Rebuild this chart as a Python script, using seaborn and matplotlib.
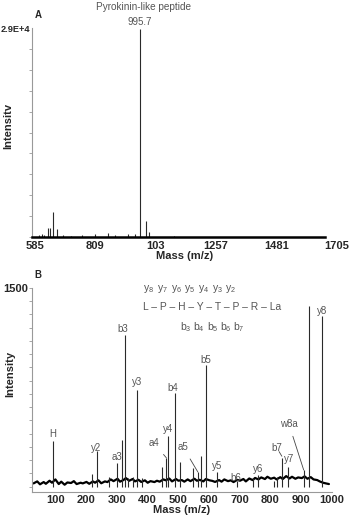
import pandas as pd
import matplotlib
matplotlib.use('Agg')
import matplotlib.pyplot as plt
import seaborn as sns
from matplotlib.ticker import MultipleLocator, FixedLocator

# --- panel A: full MS spectrum ---
a_mz = [600, 611, 620, 633, 640, 652, 667, 690, 720, 760, 808, 856, 880, 930, 956, 975, 997, 1008, 1100]
a_int = [300, 400, 300, 1250, 1250, 3500, 1100, 250, 200, 250, 400, 500, 300, 400, 350, 28800, 2200, 700, 200]
a_ticks = [585, 809, 1033, 1257, 1481, 1705]
a_ticklabels = ['585', '809', '103', '1257', '1481', '1705']

# --- panel B: MS/MS spectrum ---
b_mz = [94, 220, 236, 275, 301, 318, 327, 337, 353, 366, 382, 447, 462, 467, 490, 506, 548,
        564, 574, 590, 626, 690, 743, 759, 811, 821, 837, 857, 908, 925, 967]
b_int = [345, 96, 270, 73, 179, 353, 1145, 66, 73, 730, 66, 149, 217, 383, 707, 186, 141,
         111, 232, 919, 111, 43, 66, 88, 43, 73, 217, 149, 126, 1362, 1289]

noise_mz = [30, 42, 51, 63, 70, 82, 90, 101, 112, 120, 131, 140, 152, 161, 170, 183, 190, 202, 211, 223,
            230, 241, 250, 262, 270, 281, 290, 303, 311, 322, 330, 341, 352, 360, 371, 380, 392, 401, 410, 423,
            431, 440, 452, 460, 471, 480, 493, 501, 512, 520, 531, 540, 553, 561, 570, 582, 590, 602, 611, 620,
            633, 641, 650, 662, 671, 680, 692, 701, 712, 720, 731, 742, 750, 761, 770, 782, 790, 801, 812, 820,
            832, 840, 851, 862, 870, 881, 890, 902, 911, 920, 931, 940, 952, 960, 971, 980, 990]
noise_int = [25, 40, 18, 35, 22, 45, 30, 55, 20, 38, 15, 32, 28, 42, 20, 30, 25, 36, 22, 40,
             30, 48, 26, 40, 35, 55, 42, 60, 38, 50, 65, 45, 58, 40, 52, 36, 48, 30, 42, 35,
             45, 38, 55, 48, 62, 40, 58, 45, 50, 38, 55, 42, 60, 45, 52, 40, 58, 48, 44, 36,
             50, 38, 55, 42, 48, 35, 52, 45, 58, 40, 62, 50, 66, 55, 70, 58, 75, 60, 68, 55,
             72, 58, 80, 62, 75, 60, 70, 65, 78, 60, 72, 55, 50, 40, 30, 25, 20]

# fragment labels: text and label position (m/z, intensity)
frag_text = ['H', 'y2', 'a3', 'b3', 'y3', 'y4', 'b4', 'b5', 'y5', 'b6', 'y6', 'y7', 'y8']
frag_x = [94, 233, 301, 321, 366, 467, 483, 590, 626, 688, 759, 860, 967]
frag_y = [397, 292, 223, 1189, 790, 434, 745, 955, 156, 66, 134, 209, 1325]

# labels with leader lines to the peak tip
lead_text = ['a4', 'a5', 'b7', 'w8a']
lead_x = [421, 516, 821, 860]
lead_y = [330, 299, 292, 473]
lead_tip_x = [462, 564, 837, 908]
lead_tip_y = [217, 111, 230, 126]

sns.set_style('white')
plt.rcParams['font.family'] = ['Liberation Sans', 'DejaVu Sans']
plt.rcParams['mathtext.fontset'] = 'custom'
plt.rcParams['mathtext.rm'] = 'Liberation Sans'
plt.rcParams['mathtext.default'] = 'regular'

W, H = 360, 517
fig = plt.figure(figsize=(3.6, 5.17), dpi=100)


def box(l, t, r, b):
    return [l / W, 1 - b / H, (r - l) / W, (b - t) / H]


def ftext(x, y, s, **kw):
    fig.text(x / W, 1 - y / H, s, **kw)


peak_col = '#2a2a2a'
lab_col = '#555555'

# panel A
axA = fig.add_axes(box(32, 28, 337, 237))
axA.vlines(a_mz, 0, a_int, color=peak_col, lw=0.8)
axA.set_xlim(574, 1705)
axA.set_ylim(0, 29000)
sns.despine(ax=axA)
axA.spines['left'].set_color('#999999')
axA.spines['left'].set_linewidth(0.8)
axA.spines['bottom'].set_color('black')
axA.spines['bottom'].set_linewidth(1.8)
axA.spines['bottom'].set_bounds(574, 1660)
axA.xaxis.set_major_locator(FixedLocator(a_ticks))
axA.set_xticklabels(a_ticklabels, fontsize=8, fontweight='bold')
axA.yaxis.set_major_locator(FixedLocator([29000]))
axA.set_yticklabels(['2.9E+4'], fontsize=6.6, fontweight='bold')
axA.yaxis.set_minor_locator(MultipleLocator(2900))
axA.tick_params(axis='x', length=0, pad=3)
axA.tick_params(axis='y', which='minor', left=True, length=2, width=0.6, color='#999999')
axA.tick_params(axis='y', which='major', left=True, length=0, pad=1)
axA.set_xlabel('Mass (m/z)', fontsize=8, fontweight='bold', labelpad=0)
axA.set_ylabel('Intensitv', fontsize=8, fontweight='bold')
axA.yaxis.set_label_coords(-0.06, 0.53)
axA.text(975, 29830, '995.7', ha='center', va='center', fontsize=7, color=lab_col)

# panel B
axB = fig.add_axes(box(32, 288, 332, 492))
noise = pd.DataFrame({'mz': noise_mz, 'intensity': noise_int})
sns.lineplot(data=noise, x='mz', y='intensity', ax=axB, color='black', lw=1.6)
axB.vlines(b_mz, 0, b_int, color=peak_col, lw=0.8)
axB.set_xlim(25, 1000)
axB.set_ylim(-40, 1500)
sns.despine(ax=axB)
for s in ['left', 'bottom']:
    axB.spines[s].set_color('#999999')
    axB.spines[s].set_linewidth(0.8)
axB.set_xticks([100, 200, 300, 400, 500, 600, 700, 800, 900, 1000])
axB.set_xticklabels(['100', '200', '300', '400', '500', '600', '700', '800', '900', '1000'],
                    fontsize=8, fontweight='bold')
axB.yaxis.set_major_locator(FixedLocator([1500]))
axB.set_yticklabels(['1500'], fontsize=8, fontweight='bold')
axB.yaxis.set_minor_locator(MultipleLocator(100))
axB.tick_params(axis='x', length=0, pad=2)
axB.tick_params(axis='y', which='both', left=True, length=2, width=0.6, color='#999999', pad=1)
axB.set_xlabel('Mass (m/z)', fontsize=8, fontweight='bold', labelpad=0)
axB.set_ylabel('Intensity', fontsize=8, fontweight='bold')
axB.yaxis.set_label_coords(-0.055, 0.58)

for t, x, y in zip(frag_text, frag_x, frag_y):
    axB.text(x, y, t, ha='center', va='center', fontsize=7, color=lab_col)

for t, x, y, tx, ty in zip(lead_text, lead_x, lead_y, lead_tip_x, lead_tip_y):
    axB.annotate(t, xy=(tx, ty), xytext=(x, y), ha='center', va='center', fontsize=7, color=lab_col,
                 arrowprops=dict(arrowstyle='-', color='#444444', lw=0.6, shrinkA=3, shrinkB=0))

# sequence scheme
y_ions = ['8', '7', '6', '5', '4', '3', '2']
b_ions = ['3', '4', '5', '6', '7']
for i, n in enumerate(y_ions):
    ftext(149 + i * 13.6, 289, 'y$_{' + n + '}$', ha='center', va='center', fontsize=7.5, color=lab_col)
ftext(212, 307, 'L \u2013 P \u2013 H \u2013 Y \u2013 T \u2013 P \u2013 R \u2013 La', ha='center', va='center',
      fontsize=7.4, color=lab_col)
for i, n in enumerate(b_ions):
    ftext(186 + i * 13.3, 327, 'b$_{' + n + '}$', ha='center', va='center', fontsize=7.5, color=lab_col)

ftext(143, 7, 'Pyrokinin-like peptide', ha='center', va='center', fontsize=7.2, color=lab_col)
ftext(38, 15, 'A', ha='center', va='center', fontsize=7, fontweight='bold')
ftext(38, 275, 'B', ha='center', va='center', fontsize=7, fontweight='bold')

fig.savefig('out.png', dpi=100)
